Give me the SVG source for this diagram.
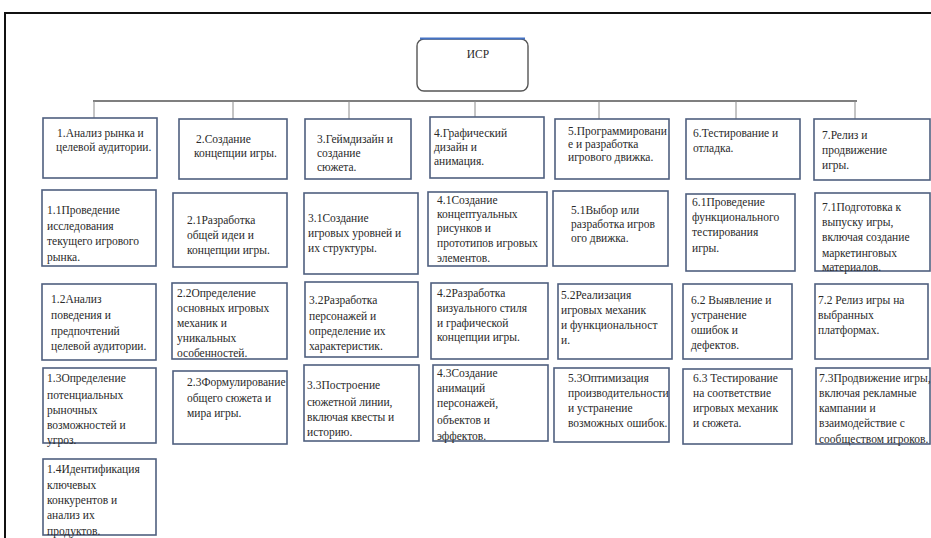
<svg xmlns="http://www.w3.org/2000/svg" width="931" height="538" viewBox="0 0 931 538">
<style>
.box{fill:#fff;stroke:#4f5f7f;stroke-width:1.6}
.t{font-family:"Liberation Serif","Times New Roman",serif;font-size:11.5px;fill:#2a2a2a}
.bus{stroke:#7f7f7f;stroke-width:2.2;fill:none}
.drop{stroke:#8a8a8a;stroke-width:1;fill:none}
</style>
<rect x="0" y="0" width="931" height="538" fill="#fff"/>
<rect x="5" y="13" width="940" height="540" fill="none" stroke="#111" stroke-width="2"/>
<g id="connectors">
<line class="bus" x1="93" y1="101" x2="857" y2="101"/>
<line class="drop" x1="94" y1="101" x2="94" y2="118"/>
<line class="drop" x1="233" y1="101" x2="233" y2="119"/>
<line class="drop" x1="349" y1="101" x2="349" y2="119"/>
<line class="drop" x1="475" y1="101" x2="475" y2="117"/>
<line class="drop" x1="599" y1="101" x2="599" y2="119"/>
<line class="drop" x1="736" y1="101" x2="736" y2="119"/>
<line class="drop" x1="855" y1="101" x2="855" y2="119"/>
</g>
<g id="root">
<rect x="417" y="39" width="111" height="52" rx="7" fill="#fff" stroke="#555" stroke-width="1.4"/>
<line x1="420" y1="38.5" x2="525" y2="38.5" stroke="#4472c4" stroke-width="2"/>
<text class="t" x="478" y="58" text-anchor="middle">ИСР</text>
</g>
<g id="n1">
<rect class="box" x="43" y="118" width="114" height="60"/>
<text class="t"><tspan x="57" y="137">1.Анализ рынка и</tspan><tspan x="56" y="151">целевой аудитории.</tspan></text>
</g>
<g id="n2">
<rect class="box" x="179" y="119" width="108" height="60"/>
<text class="t"><tspan x="196" y="143">2.Создание</tspan><tspan x="194" y="157">концепции игры.</tspan></text>
</g>
<g id="n3">
<rect class="box" x="305" y="119" width="106" height="60"/>
<text class="t"><tspan x="317" y="143">3.Геймдизайн и</tspan><tspan x="317" y="157">создание</tspan><tspan x="317" y="171">сюжета.</tspan></text>
</g>
<g id="n4">
<rect class="box" x="430" y="117" width="114" height="61"/>
<text class="t"><tspan x="434" y="137">4.Графический</tspan><tspan x="434" y="151">дизайн и</tspan><tspan x="434" y="165">анимация.</tspan></text>
</g>
<g id="n5">
<rect class="box" x="555" y="119" width="114" height="60"/>
<text class="t"><tspan x="568" y="135">5.Программировани</tspan><tspan x="568" y="148">е и разработка</tspan><tspan x="568" y="161">игрового движка.</tspan></text>
</g>
<g id="n6">
<rect class="box" x="686" y="119" width="114" height="60"/>
<text class="t"><tspan x="693" y="137">6.Тестирование и</tspan><tspan x="693" y="152">отладка.</tspan></text>
</g>
<g id="n7">
<rect class="box" x="814" y="119" width="116" height="61"/>
<text class="t"><tspan x="822" y="139">7.Релиз и</tspan><tspan x="822" y="154">продвижение</tspan><tspan x="822" y="169">игры.</tspan></text>
</g>
<g id="n1-1">
<rect class="box" x="42" y="190" width="114" height="76"/>
<text class="t"><tspan x="47" y="214">1.1Проведение</tspan><tspan x="47" y="229.5">исследования</tspan><tspan x="47" y="245">текущего  игрового</tspan><tspan x="47" y="260.5">рынка.</tspan></text>
</g>
<g id="n1-2">
<rect class="box" x="42" y="284" width="114" height="76"/>
<text class="t"><tspan x="51" y="303">1.2Анализ</tspan><tspan x="51" y="319">поведения и</tspan><tspan x="51" y="334.5">предпочтений</tspan><tspan x="51" y="350">целевой аудитории.</tspan></text>
</g>
<g id="n1-3">
<rect class="box" x="43" y="368" width="113" height="75"/>
<text class="t"><tspan x="47" y="382">1.3Определение</tspan><tspan x="47" y="399">потенциальных</tspan><tspan x="47" y="414">рыночных</tspan><tspan x="47" y="429">возможностей и</tspan><tspan x="47" y="444">угроз.</tspan></text>
</g>
<g id="n1-4">
<rect class="box" x="43" y="459" width="113" height="76"/>
<text class="t"><tspan x="47" y="473">1.4Идентификация</tspan><tspan x="47" y="489">ключевых</tspan><tspan x="47" y="504">конкурентов и</tspan><tspan x="47" y="519">анализ их</tspan><tspan x="47" y="535">продуктов.</tspan></text>
</g>
<g id="n2-1">
<rect class="box" x="173" y="193" width="114" height="74"/>
<text class="t"><tspan x="187" y="224">2.1Разработка</tspan><tspan x="187" y="239">общей идеи и</tspan><tspan x="187" y="254">концепции игры.</tspan></text>
</g>
<g id="n2-2">
<rect class="box" x="172" y="283" width="115" height="76"/>
<text class="t"><tspan x="177" y="297">2.2Определение</tspan><tspan x="177" y="312">основных игровых</tspan><tspan x="177" y="327">механик и</tspan><tspan x="177" y="342">уникальных</tspan><tspan x="177" y="357">особенностей.</tspan></text>
</g>
<g id="n2-3">
<rect class="box" x="173" y="371" width="114" height="73"/>
<text class="t"><tspan x="187" y="386">2.3Формулирование</tspan><tspan x="187" y="402">общего сюжета и</tspan><tspan x="187" y="417">мира игры.</tspan></text>
</g>
<g id="n3-1">
<rect class="box" x="304" y="193" width="114" height="81"/>
<text class="t"><tspan x="308" y="222">3.1Создание</tspan><tspan x="308" y="237">игровых уровней и</tspan><tspan x="308" y="252">их структуры.</tspan></text>
</g>
<g id="n3-2">
<rect class="box" x="305" y="282" width="113" height="75"/>
<text class="t"><tspan x="309" y="304">3.2Разработка</tspan><tspan x="309" y="320">персонажей и</tspan><tspan x="309" y="335">определение их</tspan><tspan x="309" y="350">характеристик.</tspan></text>
</g>
<g id="n3-3">
<rect class="box" x="304" y="365" width="115" height="76"/>
<text class="t"><tspan x="307" y="389">3.3Построение</tspan><tspan x="307" y="406">сюжетной линии,</tspan><tspan x="307" y="421">включая квесты и</tspan><tspan x="307" y="436">историю.</tspan></text>
</g>
<g id="n4-1">
<rect class="box" x="428" y="192" width="119" height="74"/>
<text class="t"><tspan x="437" y="204">4.1Создание</tspan><tspan x="437" y="218">концептуальных</tspan><tspan x="437" y="232">рисунков и</tspan><tspan x="437" y="247">прототипов игровых</tspan><tspan x="437" y="262">элементов.</tspan></text>
</g>
<g id="n4-2">
<rect class="box" x="431" y="283" width="117" height="76"/>
<text class="t"><tspan x="437" y="297">4.2Разработка</tspan><tspan x="437" y="312">визуального стиля</tspan><tspan x="437" y="327">и графической</tspan><tspan x="437" y="341">концепции игры.</tspan></text>
</g>
<g id="n4-3">
<rect class="box" x="433" y="365" width="115" height="76"/>
<text class="t"><tspan x="437" y="377">4.3Создание</tspan><tspan x="437" y="392">анимаций</tspan><tspan x="437" y="407">персонажей,</tspan><tspan x="437" y="424">объектов и</tspan><tspan x="437" y="440">эффектов.</tspan></text>
</g>
<g id="n5-1">
<rect class="box" x="553" y="191" width="115" height="75"/>
<text class="t"><tspan x="571" y="214">5.1Выбор или</tspan><tspan x="571" y="228">разработка игров</tspan><tspan x="571" y="242">ого движка.</tspan></text>
</g>
<g id="n5-2">
<rect class="box" x="558" y="284" width="114" height="75"/>
<text class="t"><tspan x="561" y="299">5.2Реализация</tspan><tspan x="561" y="314">игровых механик</tspan><tspan x="561" y="329">и функциональност</tspan><tspan x="561" y="344">и.</tspan></text>
</g>
<g id="n5-3">
<rect class="box" x="554" y="368" width="115" height="74"/>
<text class="t"><tspan x="568" y="382">5.3Оптимизация</tspan><tspan x="568" y="397">производительности</tspan><tspan x="568" y="412">и устранение</tspan><tspan x="568" y="427">возможных ошибок.</tspan></text>
</g>
<g id="n6-1">
<rect class="box" x="686" y="194" width="109" height="77"/>
<text class="t"><tspan x="692" y="206">6.1Проведение</tspan><tspan x="692" y="221">функционального</tspan><tspan x="692" y="236">тестирования</tspan><tspan x="692" y="252">игры.</tspan></text>
</g>
<g id="n6-2">
<rect class="box" x="683" y="284" width="109" height="75"/>
<text class="t"><tspan x="691" y="304">6.2 Выявление и</tspan><tspan x="691" y="319">устранение</tspan><tspan x="691" y="334">ошибок и</tspan><tspan x="691" y="349">дефектов.</tspan></text>
</g>
<g id="n6-3">
<rect class="box" x="683" y="369" width="109" height="75"/>
<text class="t"><tspan x="693" y="382">6.3 Тестирование</tspan><tspan x="693" y="397">на соответствие</tspan><tspan x="693" y="412">игровых механик</tspan><tspan x="693" y="427">и сюжета.</tspan></text>
</g>
<g id="n7-1">
<rect class="box" x="815" y="193" width="115" height="78"/>
<text class="t"><tspan x="822" y="211">7.1Подготовка к</tspan><tspan x="822" y="226">выпуску игры,</tspan><tspan x="822" y="241">включая создание</tspan><tspan x="822" y="257">маркетинговых</tspan><tspan x="822" y="271">материалов.</tspan></text>
</g>
<g id="n7-2">
<rect class="box" x="815" y="284" width="113" height="75"/>
<text class="t"><tspan x="818" y="304">7.2 Релиз игры на</tspan><tspan x="818" y="319">выбранных</tspan><tspan x="818" y="334">платформах.</tspan></text>
</g>
<g id="n7-3">
<rect class="box" x="816" y="368" width="114" height="76"/>
<text class="t"><tspan x="819" y="382">7.3Продвижение игры,</tspan><tspan x="819" y="397">включая рекламные</tspan><tspan x="819" y="412">кампании и</tspan><tspan x="819" y="427">взаимодействие с</tspan><tspan x="819" y="443">сообществом игроков.</tspan></text>
</g>
</svg>
